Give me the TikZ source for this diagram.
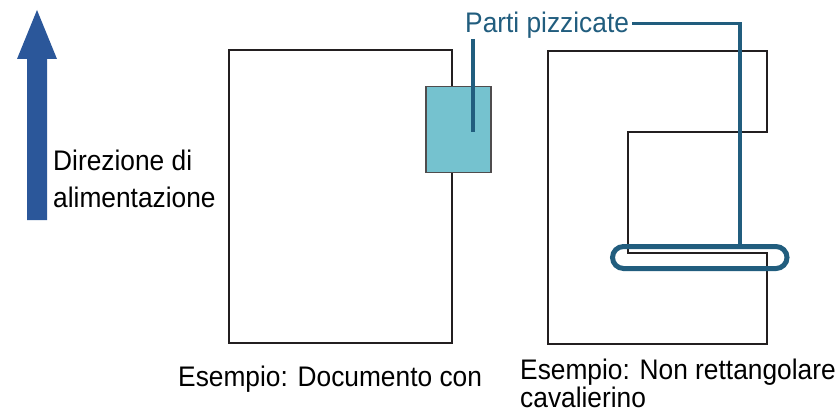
\documentclass[tikz,border=0pt]{standalone}
\usepackage{fontspec}
\setmainfont{Liberation Sans}[FakeStretch=0.93]
\definecolor{arrowblue}{HTML}{2B579A}
\definecolor{leaderblue}{HTML}{215D7E}
\definecolor{tealfill}{HTML}{75C2CF}
\definecolor{inkblack}{HTML}{231F20}
\begin{document}
\begin{tikzpicture}[x=1pt,y=-1pt,
  txt/.style={inner sep=0pt,font=\fontsize{28.3}{34}\selectfont,text=black},
  outline/.style={draw=inkblack,line width=2.8pt,line join=miter},
  leader/.style={draw=leaderblue,line width=3.5pt},
  pinchbox/.style={draw=inkblack!80,line width=1.5pt,fill=tealfill,minimum width=65pt,minimum height=86pt,inner sep=0pt},
  pinchloop/.style={draw=leaderblue,line width=5pt,rounded corners=11pt,minimum width=174.5pt,minimum height=22pt,inner sep=0pt}]
\useasboundingbox (0,0) rectangle (840,412);
% feed direction arrow
\fill[arrowblue] (27,220) -- (27,59) -- (17,59) -- (37,10) -- (57,59) -- (47,59) -- (47,220) -- cycle;
\node[txt,anchor=base west] (dir1) at (53,170) {Direzione di};
\node[txt,anchor=base west] (dir2) at (53,207) {alimentazione};
% left document
\draw[outline] (229,50) rectangle (452,343);
\node[pinchbox] (pinch1) at (458.5,129.5) {};
% right document
\draw[outline] (548,51) -- (767,51) -- (767,132) -- (628,132) -- (628,253) -- (767,253) -- (767,344) -- (548,344) -- cycle;
\node[pinchloop] (pinch2) at (699.75,257.5) {};
% label and leaders
\node[txt,anchor=base west,text=leaderblue] (lbl) at (465,33) {Parti pizzicate};
\coordinate (k) at (740,23.5);
\draw[leader] (473,39) -- ([xshift=14.5pt,yshift=-2.5pt]pinch1.center);
\draw[leader] ([xshift=3pt]lbl.east |- k) -- (k) -- (k |- pinch2.north);
% captions
\node[txt,anchor=base west] (cap1) at (178,386) {Esempio: Documento con};
\node[txt,anchor=base west] (cap2a) at (520,379) {Esempio: Non rettangolare};
\node[txt,anchor=base west] (cap2b) at (520,407) {cavalierino};
\end{tikzpicture}
\end{document}
